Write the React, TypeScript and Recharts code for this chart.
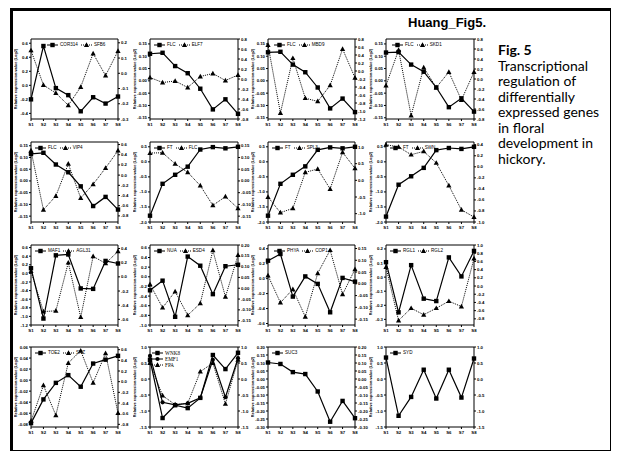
import React from 'react';
import { LineChart, Line, XAxis, YAxis, Legend } from 'recharts';

// ---------- categories ----------
const STAGES = ['S1', 'S2', 'S3', 'S4', 'S5', 'S6', 'S7', 'S8'];

// ---------- series values ----------
const cor314 = [-0.2, 0.56, -0.04, -0.14, -0.37, -0.17, -0.26, -0.16];
const sfb6 = [0.15, -0.077, -0.13, -0.21, -0.09, 0.13, -0.015, 0.146];

const flcA = [0.11, 0.114, 0.06, 0.031, -0.032, -0.116, -0.075, -0.134];
const elf7 = [0.03, -0.07, -0.04, -0.17, 0.05, 0.11, -0.03, 0.08];

const flcB = [0.116, 0.118, 0.066, 0.035, -0.027, -0.112, -0.072, -0.127];
const mbd9 = [0.65, -1.05, 0.32, -0.68, -0.76, -0.36, 0.55, -0.17];

const flcC = [0.115, 0.117, 0.066, 0.037, -0.027, -0.107, -0.071, -0.125];
const skd1 = [-0.13, 0.58, -0.73, 0.23, -0.17, 0.14, -0.42, 0.14];

const flcD = [0.115, 0.12, 0.07, 0.037, -0.023, -0.107, -0.068, -0.122];
const vip4 = [0.48, -0.68, -0.41, 0.22, -0.45, -0.18, 0.14, 0.48];

const ftA = [-1.79, -0.73, -0.43, -0.16, 0.41, 0.49, 0.45, 0.5];
const flcE = [0.119, 0.12, 0.073, 0.037, -0.02, -0.104, -0.067, -0.117];

const ftB = [-1.79, -0.73, -0.43, -0.15, 0.4, 0.48, 0.45, 0.5];
const spl3 = [-0.5, -0.97, -0.84, 0.24, 0.34, -0.26, 0.84, 0.36];

const ftC = [-1.82, -0.76, -0.48, -0.2, 0.39, 0.46, 0.43, 0.5];
const swn = [0.4, 0.36, 0.22, 0.28, 0.07, -0.34, -0.78, -0.91];

const maf1 = [0.12, -1.05, 0.42, 0.44, -0.35, -0.36, 0.29, 0.23];
const agl31 = [0.08, -0.49, -0.48, 0.2, -0.57, 0.29, 0.19, 0.36];

const nua = [-0.28, -0.08, -0.83, 0.42, 0.23, -0.36, 0.22, 0.25];
const esd4 = [0.018, -0.09, -0.015, -0.125, -0.07, 0.175, -0.04, 0.153];

const phya = [0.24, 0.33, -0.24, 0.03, -0.07, -0.45, 0.01, -0.04];
const cop1 = [0.035, -0.08, -0.023, -0.14, 0.045, 0.143, -0.045, 0.062];

const rgl1 = [0.106, -0.25, 0.085, -0.153, -0.17, 0.14, 0.005, 0.186];
const rgl2 = [0.46, -0.84, -0.54, -0.7, -0.54, -0.37, -0.5, 0.67];

const toe2 = [-0.078, -0.035, -0.005, 0.009, -0.012, 0.03, 0.037, 0.044];
const snz = [-0.74, -0.07, -0.63, 0.35, 0.58, -0.02, 0.53, -0.59];

const wnk8 = [0.6, -1.22, -0.82, -0.91, -0.59, 0.75, 0.31, 0.82];
const emf1 = [0.72, -0.73, -0.81, -0.76, -0.59, 0.6, -0.57, 0.65];
const fpa = [0.5, -0.52, -0.8, -0.76, 0.23, 0.5, -0.78, 0.6];

const suc3 = [0.103, 0.094, 0.043, 0.031, -0.078, -0.267, -0.137, -0.245];

const syd = [0.67, -1.15, -0.56, 0.29, -0.61, 0.29, -0.58, 0.64];

// ---------- tick labels ----------
const ticksA = [-0.4, -0.2, 0, 0.2, 0.4, 0.6];
const ticksB = [-0.3, -0.2, -0.1, 0, 0.1, 0.2];
const ticksFlc = [-0.15, -0.1, -0.05, 0, 0.05, 0.1, 0.15];
const ticks08 = [-0.8, -0.6, -0.4, -0.2, 0, 0.2, 0.4, 0.6, 0.8];
const ticks12 = [-1.2, -1.0, -0.8, -0.6, -0.4, -0.2, 0, 0.2, 0.4, 0.6, 0.8];
const ticksVip = [-0.8, -0.6, -0.4, -0.2, 0, 0.2, 0.4, 0.6];
const ticksFt = [-2.0, -1.5, -1.0, -0.5, 0, 0.5];
const ticksSpl = [-1.0, -0.5, 0, 0.5, 1.0];
const ticksSwn = [-1.0, -0.8, -0.6, -0.4, -0.2, 0, 0.2, 0.4];
const ticksMaf = [-1.2, -1.0, -0.8, -0.6, -0.4, -0.2, 0, 0.2, 0.4, 0.6];
const ticksAgl = [-0.6, -0.4, -0.2, 0, 0.2, 0.4];
const ticksNua = [-1.0, -0.8, -0.6, -0.4, -0.2, 0, 0.2, 0.4, 0.6];
const ticksEsd = [-0.15, -0.1, -0.05, 0, 0.05, 0.1, 0.15, 0.2];
const ticksPhy = [-0.6, -0.4, -0.2, 0, 0.2, 0.4];
const ticksRgl1 = [-0.3, -0.2, -0.1, 0, 0.1, 0.2];
const ticksRgl2 = [-0.8, -0.6, -0.4, -0.2, 0, 0.2, 0.4, 0.6, 0.8, 1.0];
const ticksToe = [-0.08, -0.06, -0.04, -0.02, 0, 0.02, 0.04, 0.06];
const ticksSnz = [-0.8, -0.6, -0.4, -0.2, 0, 0.2, 0.4, 0.6];
const ticks15 = [-1.5, -1.0, -0.5, 0, 0.5, 1.0];
const ticksSuc = [-0.3, -0.25, -0.2, -0.15, -0.1, -0.05, 0, 0.05, 0.1, 0.15, 0.2];

const AXIS_TITLE = 'Relative expression value (Log2)';

// ---------- layout ----------
const COL_X = [31, 150, 268, 386];
const COL_W = [87, 88, 87, 88];
const ROW_Y = [39, 142, 245, 347];
const ROW_H = 80;
const LEGEND_DX = [16, 4, 6, 6, 4, 4, 4, 4, 4, 4, 6, 4, 4, 2, 4, 4];

const FONT = "'Liberation Sans', Arial, sans-serif";
const LW = 17;
const RW = 16;
const TOPPAD = 3;
const BOTH = 12;

type Shape = 'square' | 'triangle' | 'circle';
type Series = { name: string; values: number[]; axis: 'L' | 'R'; shape: Shape; dotted: boolean };
type Cfg = {
  series: Series[];
  lt: number[]; ld: [number, number]; ldec: number;
  rt: number[]; rd: [number, number]; rdec: number;
  serif?: boolean; legendW?: number;
};

const S = (name: string, values: number[], axis: 'L' | 'R', shape: Shape, dotted: boolean): Series => ({ name, values, axis, shape, dotted });

const PANELS: Cfg[] = [
  { series: [S('COR314', cor314, 'L', 'square', false), S('SFB6', sfb6, 'R', 'triangle', true)], lt: ticksA, ld: [-0.48, 0.66], ldec: 1, rt: ticksB, rd: [-0.3, 0.225], rdec: 1 },
  { series: [S('FLC', flcA, 'L', 'square', false), S('ELF7', elf7, 'R', 'triangle', true)], lt: ticksFlc, ld: [-0.155, 0.17], ldec: 2, rt: ticks08, rd: [-0.8, 0.8], rdec: 1 },
  { series: [S('FLC', flcB, 'L', 'square', false), S('MBD9', mbd9, 'R', 'triangle', true)], lt: ticksFlc, ld: [-0.155, 0.17], ldec: 2, rt: ticks12, rd: [-1.2, 0.8], rdec: 1 },
  { series: [S('FLC', flcC, 'L', 'square', false), S('SKD1', skd1, 'R', 'triangle', true)], lt: ticksFlc, ld: [-0.155, 0.17], ldec: 2, rt: ticks08, rd: [-0.8, 0.8], rdec: 1 },
  { series: [S('FLC', flcD, 'L', 'square', false), S('VIP4', vip4, 'R', 'triangle', true)], lt: ticksFlc, ld: [-0.175, 0.166], ldec: 2, rt: ticksVip, rd: [-0.92, 0.65], rdec: 1 },
  { series: [S('FT', ftA, 'L', 'square', false), S('FLC', flcE, 'R', 'triangle', true)], lt: ticksFt, ld: [-2.0, 0.66], ldec: 1, rt: ticksFlc, rd: [-0.175, 0.166], rdec: 2 },
  { series: [S('FT', ftB, 'L', 'square', false), S('SPL3', spl3, 'R', 'triangle', true)], lt: ticksFt, ld: [-2.0, 0.66], ldec: 1, rt: ticksSpl, rd: [-1.25, 1.15], rdec: 1 },
  { series: [S('FT', ftC, 'L', 'square', false), S('SWN', swn, 'R', 'triangle', true)], lt: ticksFt, ld: [-2.0, 0.66], ldec: 1, rt: ticksSwn, rd: [-1.0, 0.45], rdec: 1 },
  { series: [S('MAF1', maf1, 'L', 'square', false), S('AGL31', agl31, 'R', 'triangle', true)], lt: ticksMaf, ld: [-1.2, 0.66], ldec: 1, rt: ticksAgl, rd: [-0.68, 0.45], rdec: 1 },
  { series: [S('NUA', nua, 'L', 'square', false), S('ESD4', esd4, 'R', 'triangle', true)], lt: ticksNua, ld: [-1.0, 0.66], ldec: 1, rt: ticksEsd, rd: [-0.17, 0.2], rdec: 2 },
  { series: [S('PHYA', phya, 'L', 'square', false), S('COP1', cop1, 'R', 'triangle', true)], lt: ticksPhy, ld: [-0.62, 0.45], ldec: 1, rt: ticksFlc, rd: [-0.175, 0.165], rdec: 2 },
  { series: [S('RGL1', rgl1, 'L', 'square', false), S('RGL2', rgl2, 'R', 'triangle', true)], lt: ticksRgl1, ld: [-0.34, 0.228], ldec: 1, rt: ticksRgl2, rd: [-0.95, 1.0], rdec: 1 },
  { series: [S('TOE2', toe2, 'L', 'square', false), S('SNZ', snz, 'R', 'triangle', true)], lt: ticksToe, ld: [-0.085, 0.06], ldec: 2, rt: ticksSnz, rd: [-0.85, 0.65], rdec: 1 },
  { series: [S('WNK8', wnk8, 'L', 'square', false), S('EMF1', emf1, 'L', 'circle', false), S('FPA', fpa, 'L', 'triangle', true)], lt: ticks15, ld: [-1.5, 1.0], ldec: 1, rt: ticks15, rd: [-1.5, 1.0], rdec: 1, serif: true, legendW: 50 },
  { series: [S('SUC3', suc3, 'L', 'square', false)], lt: ticksSuc, ld: [-0.3, 0.2], ldec: 2, rt: ticksSuc, rd: [-0.3, 0.2], rdec: 2 },
  { series: [S('SYD', syd, 'L', 'square', false)], lt: ticks15, ld: [-1.5, 1.0], ldec: 1, rt: ticks15, rd: [-1.5, 1.0], rdec: 1 },
];

const fmt = (dec: number) => (v: number) => {
  const r = Math.abs(v) < 1e-9 ? 0 : v;
  return r.toFixed(dec);
};

const marker = (shape: Shape, cx: number, cy: number, key?: any) => {
  if (shape === 'square') return <rect key={key} x={cx - 2.2} y={cy - 2.2} width={4.4} height={4.4} fill="#000" />;
  if (shape === 'circle') return <circle key={key} cx={cx} cy={cy} r={2.1} fill="#000" />;
  return <polygon key={key} points={`${cx},${cy - 2.8} ${cx - 2.6},${cy + 1.9} ${cx + 2.6},${cy + 1.9}`} fill="#000" />;
};

const makeDot = (shape: Shape) => (props: any) => {
  const { cx, cy, index } = props;
  if (cx == null || cy == null) return <g key={`e${index}`} />;
  return marker(shape, cx, cy, `d${index}`);
};

const tickStyle = { fontSize: 4.3, fill: '#000', fontFamily: FONT, fontWeight: 700 };

function LegendBox({ cfg }: { cfg: Cfg }) {
  return (
    <div style={{ display: 'flex', flexWrap: 'wrap', width: cfg.legendW ?? 'auto', alignItems: 'center', columnGap: 3, rowGap: 0, lineHeight: '6px' }}>
      {cfg.series.map((s, i) => (
        <div key={i} style={{ display: 'flex', alignItems: 'center', gap: 2 }}>
          <svg width={11} height={6}>
            <line x1={0} y1={3} x2={11} y2={3} stroke="#000" strokeWidth={1} strokeDasharray={s.dotted ? '1 1' : undefined} />
            {marker(s.shape, 5.5, 3)}
          </svg>
          <span style={{ fontSize: cfg.serif ? 5.2 : 4.6, fontFamily: cfg.serif ? "'Liberation Serif', serif" : FONT, color: '#000', whiteSpace: 'nowrap' }}>{s.name}</span>
        </div>
      ))}
    </div>
  );
}

function Panel({ cfg, x, y, w, h, ldx }: { cfg: Cfg; x: number; y: number; w: number; h: number; ldx: number }) {
  const data = STAGES.map((s, i) => {
    const row: any = { s };
    cfg.series.forEach((se, k) => { row['v' + k] = se.values[i]; });
    return row;
  });
  return (
    <div style={{ position: 'absolute', left: x - LW, top: y - TOPPAD }}>
      <LineChart width={LW + w + RW} height={TOPPAD + h + BOTH} data={data} margin={{ top: 0, right: 0, bottom: 0, left: 0 }}>
        <XAxis dataKey="s" scale="point" padding={{ left: 0, right: 0 }} height={BOTH} interval={0}
          tick={tickStyle} tickSize={2} tickMargin={1.5} stroke="#000" />
        <XAxis xAxisId="t" dataKey="s" orientation="top" scale="point" padding={{ left: 0, right: 0 }} height={TOPPAD}
          tick={false} tickSize={2} stroke="#000" />
        <YAxis yAxisId="L" type="number" domain={cfg.ld} ticks={cfg.lt} allowDataOverflow interval={0} width={LW}
          tickFormatter={fmt(cfg.ldec)} tick={tickStyle} tickSize={2} tickMargin={1} stroke="#000"
          label={{ value: AXIS_TITLE, angle: -90, position: 'insideLeft', offset: 2, style: { textAnchor: 'middle', fontSize: 3.9, fontWeight: 700, fontFamily: FONT, fill: '#000' } }} />
        <YAxis yAxisId="R" orientation="right" type="number" domain={cfg.rd} ticks={cfg.rt} allowDataOverflow interval={0} width={RW}
          tickFormatter={fmt(cfg.rdec)} tick={tickStyle} tickSize={2} tickMargin={1} stroke="#000" />
        {cfg.series.map((s, k) => (
          <Line key={k} yAxisId={s.axis} dataKey={'v' + k} name={s.name} stroke="#000" strokeWidth={s.dotted ? 1 : 1.2}
            strokeDasharray={s.dotted ? '1 1' : undefined} dot={makeDot(s.shape)} activeDot={false} isAnimationActive={false} />
        ))}
        <Legend verticalAlign="middle" align="center" layout="horizontal"
          wrapperStyle={{ left: LW + ldx, top: TOPPAD + 3, width: 'auto', height: 'auto' }}
          content={() => <LegendBox cfg={cfg} />} />
      </LineChart>
    </div>
  );
}

const CAPTION = ['Transcriptional', 'regulation of', 'differentially', 'expressed genes', 'in floral', 'development in', 'hickory.'];

export default function App() {
  return (
    <div style={{ position: 'absolute', left: 0, top: 0, width: 618, height: 459, background: '#fff', overflow: 'hidden' }}>
      <div style={{ position: 'absolute', left: 10, top: 8, width: 597, height: 439, borderTop: '3px solid #000', borderLeft: '3px solid #000', borderRight: '1.5px solid #000', borderBottom: '1.5px solid #000' }} />
      <div style={{ position: 'absolute', left: 408, top: 15, fontFamily: FONT, fontWeight: 700, fontSize: 13, color: '#000' }}>Huang_Fig5.</div>
      <div style={{ position: 'absolute', left: 498, top: 42, fontFamily: 'Lato, sans-serif', fontSize: 14, lineHeight: '15.5px', color: '#000' }}>
        <div style={{ fontWeight: 700 }}>Fig. 5</div>
        {CAPTION.map((c, i) => <div key={i}>{c}</div>)}
      </div>
      {PANELS.map((cfg, i) => (
        <Panel key={i} cfg={cfg} x={COL_X[i % 4]} y={ROW_Y[Math.floor(i / 4)]} w={COL_W[i % 4]} h={ROW_H} ldx={LEGEND_DX[i]} />
      ))}
    </div>
  );
}
